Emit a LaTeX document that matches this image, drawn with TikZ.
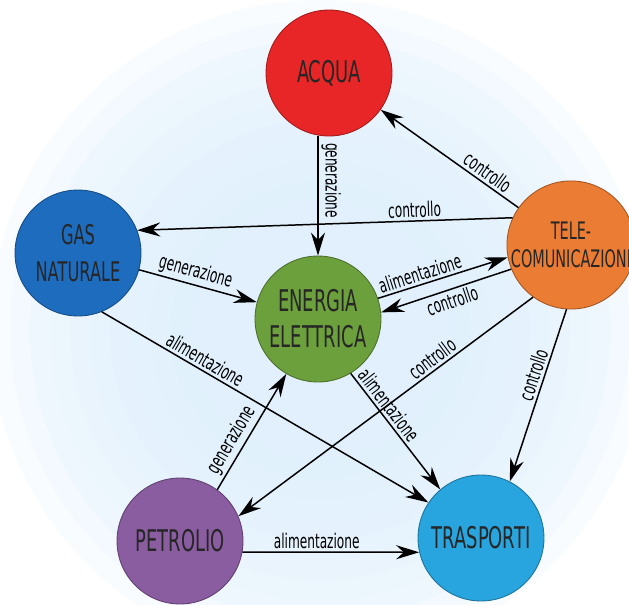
\documentclass[tikz,border=0pt]{standalone}
\usepackage{fontspec}
\setmainfont{DejaVu Sans}[FakeStretch=0.6]
\usetikzlibrary{shapes,arrows.meta,positioning}
\definecolor{acquared}{RGB}{232,38,40}
\definecolor{gasblue}{RGB}{30,108,190}
\definecolor{elecgreen}{RGB}{108,160,60}
\definecolor{teleorange}{RGB}{234,124,52}
\definecolor{oilpurple}{RGB}{138,92,160}
\definecolor{transblue}{RGB}{40,165,222}
\definecolor{glowblue}{RGB}{222,239,252}
\tikzstyle{sector} = [draw,circle,inner sep=0,minimum size=2.52cm,line width=0.5pt,align=center,text=black!85,font=\fontsize{17}{20.5}\selectfont]
\tikzstyle{link} = [-{Stealth[length=4.6mm,width=2.8mm,inset=1.5mm]},line width=0.85pt]
\tikzstyle{tag} = [sloped,inner sep=1.5pt,font=\fontsize{11.5}{13}\selectfont]

\begin{document}
\begin{tikzpicture}[x=0.02cm,y=-0.02cm]
      \useasboundingbox (0,0) rectangle (629,605);
      \foreach \r in {6.6,6.2,...,2.2}
        \fill[glowblue,opacity=0.2] (320,330) circle (\r cm);
      \node[sector,fill=acquared,draw=acquared!70!black] (acqua) at (329,73) {ACQUA};
      \node[sector,fill=gasblue,draw=gasblue!70!black,font=\fontsize{15.4}{21}\selectfont] (gas) at (78,253) {GAS\\NATURALE};
      \node[sector,fill=elecgreen,draw=elecgreen!70!black] (energia) at (318,319) {ENERGIA\\ELETTRICA};
      \node[sector,fill=teleorange,draw=teleorange!70!black,font=\fontsize{13.7}{15.5}\selectfont] (tele) at (571,245) {TELE-\\COMUNICAZIONI};
      \node[sector,fill=oilpurple,draw=oilpurple!70!black] (petrolio) at (180,541) {PETROLIO};
      \node[sector,fill=transblue,draw=transblue!70!black] (trasporti) at (481,538) {TRASPORTI};
      \draw[link] (acqua.south -| energia.north) -- node[tag,pos=0.37,above]{generazione} (energia.north);
      \draw[link] (tele) -- node[tag,pos=0.27,above]{controllo} (acqua);
      \draw[link] (tele.155) -- node[tag,pos=0.26,above]{controllo} (gas.21);
      \draw[link] (gas) -- node[tag,pos=0.45,above]{generazione} (energia);
      \draw[link] (energia.19) -- node[tag,pos=0.35,above]{alimentazione} (tele.191);
      \draw[link] (tele.202) -- node[tag,pos=0.48,below]{controllo} (energia.6);
      \draw[link] (gas.292) -- node[tag,pos=0.3,above]{alimentazione} (trasporti.146);
      \draw[link] (petrolio.54) -- node[tag,pos=0.37,above]{generazione} (energia.240);
      \draw[link] (energia.301) -- node[tag,pos=0.33,above]{alimentazione} (trasporti.130);
      \draw[link] (tele.234) -- node[tag,pos=0.32,above]{controllo} (petrolio.23);
      \draw[link] (tele.266) -- node[tag,pos=0.4,above]{controllo} (trasporti.63);
      \draw[link] (petrolio.-10) -- node[tag,pos=0.42,above]{alimentazione} (trasporti.193);
    \end{tikzpicture}
\end{document}
